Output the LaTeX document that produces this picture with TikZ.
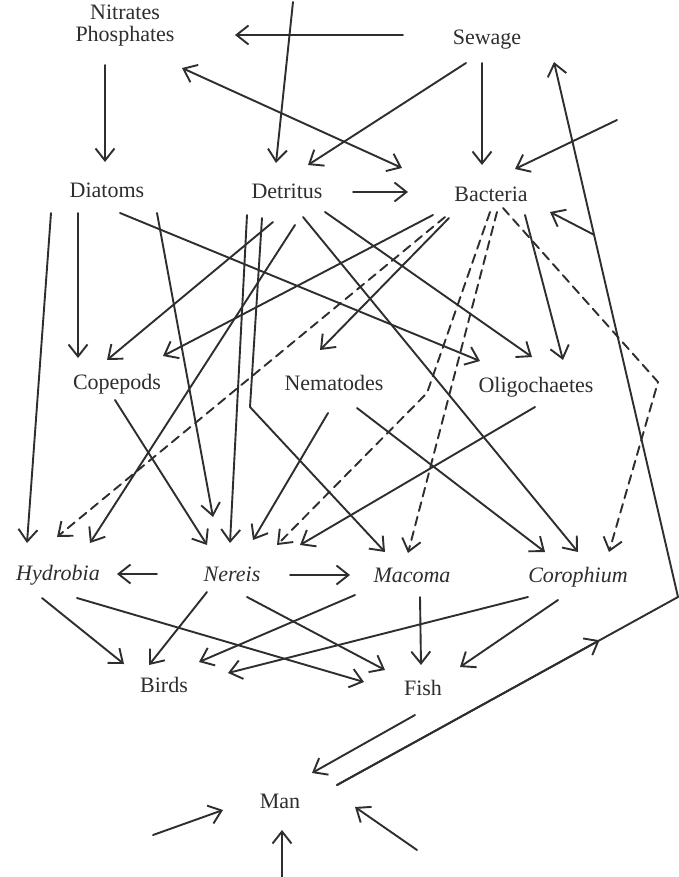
\documentclass[tikz,border=0pt]{standalone}
\usepackage{fontspec}
\setmainfont{Liberation Serif}
\usetikzlibrary{arrows.meta,calc}
\definecolor{ink}{HTML}{2E2E2E}
\begin{document}
\begin{tikzpicture}[x=1pt,y=-1pt,
  lab/.style={inner sep=0pt,text height=15pt,text depth=0pt,font=\fontsize{22}{22}\selectfont,text=ink},
  link/.style={draw=ink,line width=1.9pt,line cap=round,line join=round},
  arr/.style={link,-{Straight Barb[length=12pt,width=19pt]}},
  darr/.style={link,{Straight Barb[length=12pt,width=19pt]}-{Straight Barb[length=12pt,width=19pt]}},
  dsh/.style={dash pattern=on 9pt off 6pt}
]
\fill[white] (0,0) rectangle (678,877);
\useasboundingbox (0,0) rectangle (678,877);

% nodes
\node[inner sep=0pt,align=center,font=\fontsize{22}{22}\selectfont,text=ink] (nit) at (125,26) {Nitrates\\Phosphates};
\node[lab] (sew) at (487,37) {Sewage};
\node[lab] (dia) at (107,190) {Diatoms};
\node[lab] (det) at (287,191) {Detritus};
\node[lab] (bac) at (491,194) {Bacteria};
\node[lab] (cop) at (117,382) {Copepods};
\node[lab] (nem) at (334,383) {Nematodes};
\node[lab] (oli) at (536,385) {Oligochaetes};
\node[lab] (hyd) at (58,573) {\itshape Hydrobia};
\node[lab] (ner) at (232,574) {\itshape Nereis};
\node[lab] (mac) at (412,575) {\itshape Macoma};
\node[lab] (cor) at (578,575) {\itshape Corophium};
\node[lab] (bir) at (164,685) {Birds};
\node[lab] (fis) at (423,688) {Fish};
\node[lab] (man) at (280,801) {Man};

% free ends
\coordinate (topin) at (293,2);
\coordinate (rin) at (617,120);
\coordinate (lin) at (153,835);
\coordinate (bin) at (282,877);
\coordinate (brin) at (417,850);
\coordinate (corner) at (678,597);
\coordinate (kdet) at (250,407);
\coordinate (kner) at (427,393);
\coordinate (kcor) at (658,382);

% top
\draw[arr] (topin) -- ($(det)+(-11,-28)$);
\draw[arr] ($(sew)+(-84,-2)$) -- ($(nit)+(110,9)$);
\draw[darr] ($(nit)+(57,42)$) -- ($(bac)+(-89,-26)$);
\draw[arr] ($(sew)+(-21,26)$) -- ($(det)+(21,-26)$);
\draw[arr] ($(sew)+(-5,26)$) -- ($(bac)+(-9,-29)$);
\draw[arr] (rin) -- ($(bac)+(24,-25)$);
\draw[arr] ($(det)+(66,1)$) -- ($(bac)+(-83,-2)$);
\draw[arr] ($(nit)+(-20,39)$) -- ($(dia)+(-2,-28)$);

% diatoms
\draw[arr] ($(dia)+(-56,23)$) -- ($(hyd)+(-31,-30)$);
\draw[arr] ($(dia)+(-29,23)$) -- ($(cop)+(-39,-24)$);
\draw[arr] ($(dia)+(13,23)$) -- ($(oli)+(-56,-24)$);
\draw[arr] ($(dia)+(50,23)$) -- ($(ner)+(-19,-57)$);

% detritus
\draw[arr] ($(det)+(-40,24)$) -- ($(ner)+(-2,-31)$);
\draw[arr] ($(det)+(-25,27)$) -- (kdet) -- ($(mac)+(-27,-23)$);
\draw[arr] ($(det)+(-14,31)$) -- ($(cop)+(-10,-22)$);
\draw[arr] ($(det)+(8,34)$) -- ($(hyd)+(32,-30)$);
\draw[arr] ($(det)+(16,26)$) -- ($(cor)+(0,-23)$);
\draw[arr] ($(det)+(38,21)$) -- ($(oli)+(-4,-28)$);

% bacteria
\draw[arr] ($(bac)+(-58,21)$) -- ($(cop)+(46,-26)$);
\draw[arr,dsh] ($(bac)+(-46,23)$) -- ($(hyd)+(-1,-36)$);
\draw[arr] ($(bac)+(-42,24)$) -- ($(nem)+(-14,-33)$);
\draw[arr,dsh] ($(bac)+(-1,18)$) -- (kner) -- ($(ner)+(45,-29)$);
\draw[arr,dsh] ($(bac)+(6,18)$) -- ($(mac)+(-4,-22)$);
\draw[arr,dsh] ($(bac)+(12,14)$) -- (kcor) -- ($(cor)+(31,-23)$);
\draw[arr] ($(bac)+(34,21)$) -- ($(oli)+(27,-25)$);

% middle row
\draw[arr] ($(cop)+(-2,18)$) -- ($(ner)+(-25,-29)$);
\draw[arr] ($(nem)+(-6,30)$) -- ($(ner)+(21,-34)$);
\draw[arr] ($(nem)+(23,25)$) -- ($(cor)+(-33,-23)$);
\draw[arr] ($(oli)+(-1,22)$) -- ($(ner)+(68,-29)$);

% lower row
\draw[arr] ($(ner)+(-75,0)$) -- ($(hyd)+(59,1)$);
\draw[arr] ($(ner)+(58,1)$) -- ($(mac)+(-62,0)$);
\draw[arr] ($(hyd)+(-16,25)$) -- ($(bir)+(-40,-21)$);
\draw[arr] ($(hyd)+(19,25)$) -- ($(fis)+(-59,-6)$);
\draw[arr] ($(ner)+(-25,18)$) -- ($(bir)+(-15,-20)$);
\draw[arr] ($(ner)+(15,23)$) -- ($(fis)+(-38,-18)$);
\draw[arr] ($(mac)+(-57,20)$) -- ($(bir)+(35,-23)$);
\draw[arr] ($(mac)+(8,22)$) -- ($(fis)+(-2,-23)$);
\draw[arr] ($(cor)+(-50,22)$) -- ($(bir)+(64,-12)$);
\draw[arr] ($(cor)+(-20,25)$) -- ($(fis)+(37,-21)$);
\draw[arr] ($(fis)+(-8,27)$) -- ($(man)+(32,-28)$);

% man
\coordinate (manout) at ($(man)+(57,-16)$);
\draw[link] (manout) -- (corner);
\draw[arr] (manout) -- ($(manout)!0.77!(corner)$);
\draw[arr] (corner) -- coordinate[pos=0.677] (br) ($(sew)+(67,25)$);
\draw[arr] (br) -- ($(bac)+(59,18)$);
\draw[arr] (lin) -- ($(man)+(-57,9)$);
\draw[arr] (bin) -- ($(man)+(2,29)$);
\draw[arr] (brin) -- ($(man)+(75,6)$);
\end{tikzpicture}
\end{document}
